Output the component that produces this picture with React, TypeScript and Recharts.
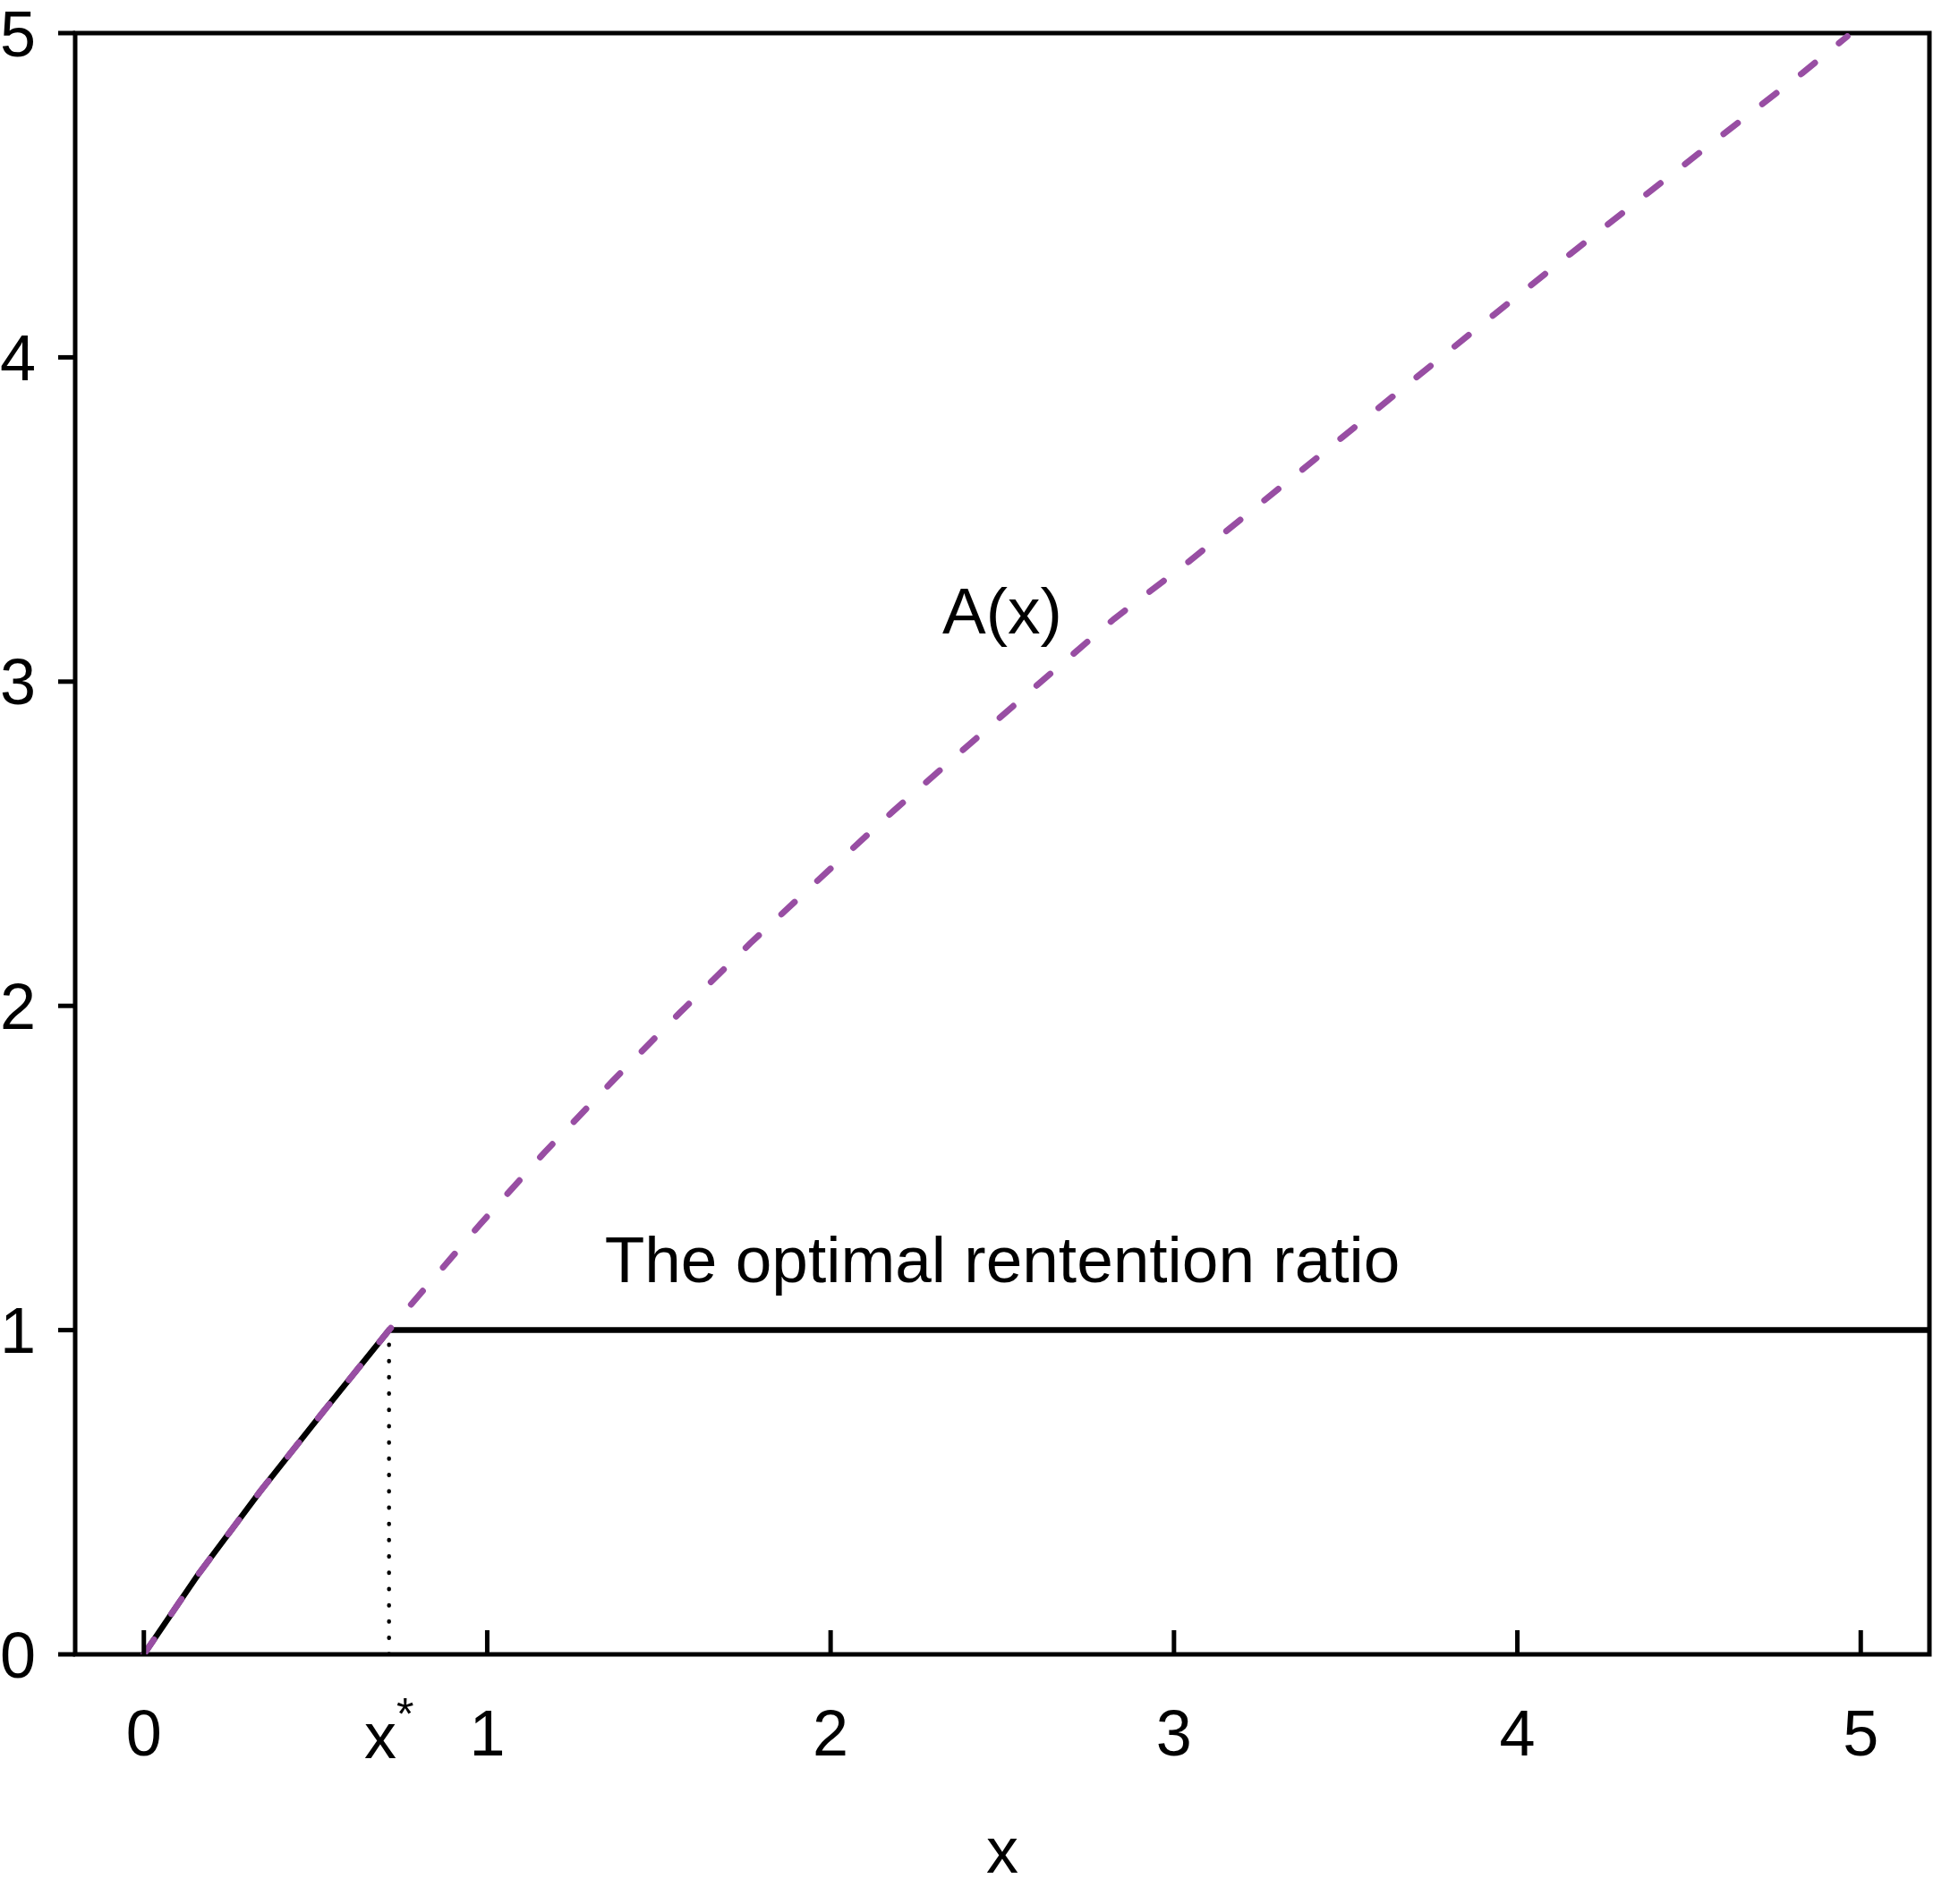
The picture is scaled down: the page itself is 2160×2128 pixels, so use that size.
import {
  LineChart,
  Line,
  XAxis,
  YAxis,
  ReferenceArea,
  ReferenceDot,
} from 'recharts';

const X_STAR = 0.714;

// A(x)
const aX = [
  0, 0.158, 0.339, 0.52, 0.714, 0.979, 1.166, 1.365, 1.561, 1.766, 1.974, 2.183, 2.396, 2.61,
  2.825, 3.043, 3.263, 3.486, 3.709, 3.931, 4.153, 4.377, 4.603, 4.829, 4.961,
];
const aY = [
  0, 0.246, 0.503, 0.745, 1, 1.326, 1.547, 1.768, 1.979, 2.193, 2.398, 2.601, 2.799, 2.997,
  3.193, 3.37, 3.559, 3.75, 3.941, 4.131, 4.318, 4.504, 4.691, 4.876, 4.99,
];

// optimal retention ratio (solid black)
const retX = [0, 0.158, 0.339, 0.52, 0.714, 5.2];
const retY = [0, 0.246, 0.503, 0.745, 1, 1];

const xTicks = [0, X_STAR, 1, 2, 3, 4, 5];
const yTicks = [0, 1, 2, 3, 4, 5];

const aData = aX.map((x, i) => ({ x, y: aY[i] }));
const retData = retX.map((x, i) => ({ x, y: retY[i] }));
const starData = [
  { x: X_STAR, y: 0 },
  { x: X_STAR, y: 1 },
];

const FONT = '"Liberation Sans", Arial, Helvetica, sans-serif';
const FS = 72;

const XTick = (props: any) => {
  const { x, y, payload } = props;
  const isStar = Math.abs(payload.value - X_STAR) < 1e-9;
  return (
    <g>
      {!isStar && (
        <line x1={x} x2={x} y1={y} y2={y - 27} stroke="#000" strokeWidth={5} />
      )}
      <text x={x} y={y + 113} textAnchor="middle" fontSize={FS} fill="#000" fontFamily={FONT}>
        {isStar ? (
          <>
            <tspan dy={3}>x</tspan>
            <tspan fontSize={50} dy={-32}>
              *
            </tspan>
          </>
        ) : (
          payload.value
        )}
      </text>
    </g>
  );
};

const App = () => {
  return (
    <div style={{ position: 'absolute', left: 0, top: 0, background: '#fff' }}>
      <LineChart
        width={2160}
        height={2128}
        margin={{ top: 37, right: 4, left: 0, bottom: 0 }}
        style={{ fontFamily: FONT }}
      >
        <XAxis
          type="number"
          dataKey="x"
          domain={[-0.2, 5.2]}
          allowDataOverflow
          ticks={xTicks}
          interval={0}
          height={279}
          axisLine={false}
          tickLine={false}
          tickSize={0}
          tickMargin={0}
          tick={<XTick />}
          label={{ value: 'x', position: 'insideBottom', offset: 35, fill: '#000', fontSize: FS }}
        />
        <YAxis
          type="number"
          dataKey="y"
          domain={[0, 5]}
          allowDataOverflow
          ticks={yTicks}
          interval={0}
          width={84}
          axisLine={false}
          tickSize={19}
          tickMargin={25}
          tickLine={{ stroke: '#000', strokeWidth: 5 }}
          tick={{ fill: '#000', fontSize: FS }}
        />
        <ReferenceArea
          x1={-0.2}
          x2={5.2}
          y1={0}
          y2={5}
          fill="none"
          fillOpacity={0}
          stroke="#000"
          strokeWidth={5}
        />
        <Line
          data={starData}
          dataKey="y"
          stroke="#000"
          strokeWidth={4.5}
          strokeDasharray="0.5 17.7"
          strokeLinecap="round"
          dot={false}
          activeDot={false}
          isAnimationActive={false}
        />
        <Line
          data={retData}
          dataKey="y"
          type="linear"
          stroke="#000"
          strokeWidth={6.5}
          dot={false}
          activeDot={false}
          isAnimationActive={false}
        />
        <Line
          data={aData}
          dataKey="y"
          type="linear"
          stroke="#984EA3"
          strokeWidth={7}
          strokeDasharray="20 34.7"
          strokeLinecap="round"
          dot={false}
          activeDot={false}
          isAnimationActive={false}
        />
        <ReferenceDot
          x={2.5}
          y={3.22}
          r={0}
          fill="none"
          stroke="none"
          label={{ value: 'A(x)', position: 'center', fill: '#000', fontSize: 73 }}
        />
        <ReferenceDot
          x={2.5}
          y={1.22}
          r={0}
          fill="none"
          stroke="none"
          label={{
            value: 'The optimal rentention ratio',
            position: 'center',
            fill: '#000',
            fontSize: 73,
          }}
        />
      </LineChart>
    </div>
  );
};

export default App;
